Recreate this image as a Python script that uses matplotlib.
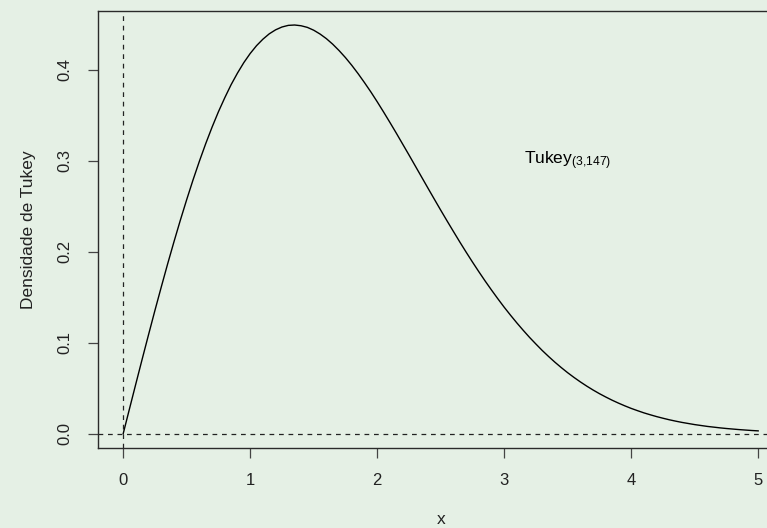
import matplotlib
matplotlib.use("Agg")
import matplotlib.pyplot as plt

plt.rcParams["font.family"] = ["Liberation Sans", "DejaVu Sans"]
plt.rcParams["mathtext.fontset"] = "custom"
plt.rcParams["mathtext.rm"] = "Liberation Sans"

# curve, x step 0.05
x = [i / 20 for i in range(101)]
dens = [
    0.0000, 0.0276, 0.0550, 0.0822, 0.1090, 0.1355, 0.1613, 0.1866, 0.2110, 0.2346,
    0.2572, 0.2789, 0.2994, 0.3188, 0.3369, 0.3538, 0.3692, 0.3836, 0.3963, 0.4078,
    0.4178, 0.4264, 0.4335, 0.4394, 0.4438, 0.4469, 0.4487, 0.4491, 0.4483, 0.4465,
    0.4434, 0.4392, 0.4341, 0.4280, 0.4210, 0.4133, 0.4048, 0.3956, 0.3858, 0.3756,
    0.3648, 0.3536, 0.3421, 0.3304, 0.3184, 0.3064, 0.2942, 0.2820, 0.2698, 0.2577,
    0.2457, 0.2339, 0.2223, 0.2108, 0.1996, 0.1887, 0.1781, 0.1678, 0.1579, 0.1483,
    0.1390, 0.1302, 0.1217, 0.1136, 0.1058, 0.0985, 0.0914, 0.0848, 0.0785, 0.0726,
    0.0670, 0.0618, 0.0569, 0.0523, 0.0480, 0.0440, 0.0403, 0.0368, 0.0336, 0.0306,
    0.0278, 0.0253, 0.0229, 0.0208, 0.0188, 0.0170, 0.0153, 0.0138, 0.0124, 0.0112,
    0.0100, 0.0090, 0.0080, 0.0072, 0.0064, 0.0057, 0.0051, 0.0045, 0.0040, 0.0035,
    0.0031,
]
xticks = [0, 1, 2, 3, 4, 5]
yticks = [0.0, 0.1, 0.2, 0.3, 0.4]

bg = "#E5F0E5"
fig = plt.figure(figsize=(7.67, 5.28), dpi=100, facecolor=bg)
ax = fig.add_axes([0.1275, 0.1519, 0.8941, 0.8271], facecolor=bg)

ax.plot(x, dens, color="black", lw=1.0)
ax.axhline(0, color="#222222", lw=0.9, dashes=(3.8, 3.8))
ax.axvline(0, color="#222222", lw=0.9, dashes=(3.8, 3.8))

ax.text(3.5, 0.3, r"$\mathregular{Tukey_{(3{,}147)}}$", ha="center", va="center",
        fontsize=12.5, color="black")

ax.set_xlim(-0.2, 5.2)
ax.set_ylim(-0.0155, 0.4644)
ax.set_xticks(xticks)
ax.set_xticklabels([str(v) for v in xticks])
ax.set_yticks(yticks)
ax.set_yticklabels([f"{v:.1f}" for v in yticks])

for s in ax.spines.values():
    s.set_color("#2a2a2a")
    s.set_linewidth(1.0)

ax.tick_params(length=7.5, width=0.9, color="#444444", labelsize=12,
               labelcolor="#222222", pad=11)
for t in ax.get_yticklabels():
    t.set_rotation(90)
    t.set_va("center")

ax.set_xlabel("x", fontsize=12.5, color="#222222", labelpad=17)
ax.set_ylabel("Densidade de Tukey", fontsize=12.5, color="#222222", labelpad=15)

fig.savefig("out.png", dpi=100, facecolor=bg)
